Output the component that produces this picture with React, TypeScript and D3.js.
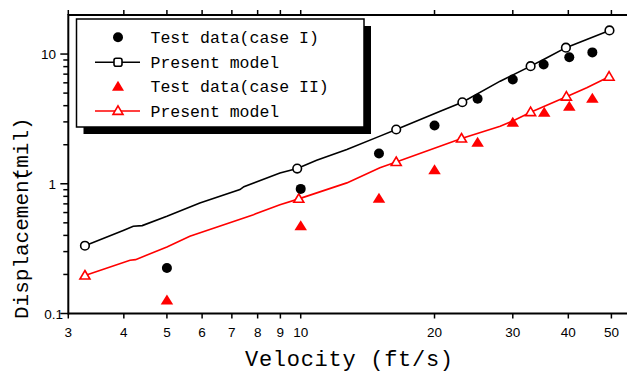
import React from "react";
import * as d3 from "d3";

// Present model (case I) curve
const modelIX = [3.27, 4.0, 4.2, 4.4, 5.0, 5.93, 7.3, 7.45, 8.98, 9.82, 10.86, 12.7, 15.07, 16.4, 20.6, 23.1, 28.1, 32.9, 35.8, 39.5, 44.0, 49.5];
const modelIY = [0.333, 0.438, 0.47, 0.476, 0.562, 0.712, 0.902, 0.95, 1.21, 1.31, 1.52, 1.836, 2.33, 2.62, 3.63, 4.25, 6.18, 8.07, 9.36, 11.2, 12.96, 15.2];
// Present model (case I) symbols
const modelIMarkX = [3.27, 9.82, 16.4, 23.1, 32.9, 39.5, 49.5];
const modelIMarkY = [0.333, 1.31, 2.62, 4.25, 8.07, 11.2, 15.2];

// Present model (case II) curve
const modelIIX = [3.27, 4.13, 4.25, 5.0, 5.63, 7.83, 8.98, 9.9, 12.7, 15.07, 16.4, 23.0, 28.1, 30.0, 32.9, 39.6, 44.0, 49.4];
const modelIIY = [0.196, 0.257, 0.26, 0.326, 0.394, 0.578, 0.69, 0.765, 1.016, 1.33, 1.47, 2.23, 2.78, 3.05, 3.56, 4.69, 5.5, 6.68];
// Present model (case II) symbols
const modelIIMarkX = [3.27, 9.9, 16.4, 23.0, 32.9, 39.6, 49.4];
const modelIIMarkY = [0.196, 0.765, 1.47, 2.23, 3.56, 4.69, 6.68];

// Test data
const testIX = [5, 10, 15, 20, 25, 30, 35.2, 40.2, 45.3];
const testIY = [0.224, 0.913, 1.71, 2.81, 4.52, 6.37, 8.31, 9.46, 10.3];
const testIIX = [5, 10, 15, 20, 25, 30, 35.3, 40.2, 45.3];
const testIIY = [0.126, 0.47, 0.765, 1.27, 2.07, 2.95, 3.53, 3.92, 4.52];

// Axis ticks
const xTicks = [3, 4, 5, 6, 7, 8, 9, 10, 20, 30, 40, 50];
const yMajor = [0.1, 1, 10];
const yMinor = [0.2, 0.3, 0.4, 0.5, 0.6, 0.7, 0.8, 0.9, 2, 3, 4, 5, 6, 7, 8, 9];

const legendLabels = ["Test data(case I)", "Present model", "Test data(case II)", "Present model"];

const W = 627;
const H = 373;
const RED = "#ff0000";
const MONO = "'Liberation Mono', 'DejaVu Sans Mono', monospace";
const SANS = "'Liberation Sans', Arial, sans-serif";

const x = d3.scaleLog().domain([3, 60]).range([68.3, 646.6]);
const y = d3.scaleLog().domain([0.1, 20]).range([313.5, 15]);

const zip = (xs: number[], ys: number[]) => xs.map((v, i) => [v, ys[i]] as [number, number]);

const line = d3
  .line<[number, number]>()
  .x((d) => x(d[0]))
  .y((d) => y(d[1]));

const triUp = (cx: number, cy: number, w: number, h: number) =>
  `M${cx},${cy - h * 0.6}L${cx + w / 2},${cy + h * 0.4}L${cx - w / 2},${cy + h * 0.4}Z`;

export default function App() {
  const x0 = x.range()[0];
  const yTop = y.range()[1];
  const yBot = y.range()[0];

  const lg = { x: 76.5, y: 19, w: 287.5, h: 108 };
  const rows = [37.3, 62.3, 86.7, 111];
  const symX = 118;

  return (
    <svg
      width={W}
      height={H}
      style={{ position: "absolute", left: 0, top: 0, background: "#fff" }}
    >
      <rect width={W} height={H} fill="#fff" />

      {/* frame */}
      <g stroke="#000" strokeWidth={2} fill="none">
        <line x1={x0} x2={W} y1={yBot} y2={yBot} />
        <line x1={x0} x2={W} y1={yTop} y2={yTop} />
        <line x1={x0} x2={x0} y1={yTop - 1} y2={yBot + 1} />
      </g>

      {/* x ticks, bottom and top */}
      <g stroke="#000" strokeWidth={1.5}>
        {xTicks.map((t) => (
          <g key={"xt" + t}>
            <line x1={x(t)} x2={x(t)} y1={yBot} y2={yBot + 5} />
            <line x1={x(t)} x2={x(t)} y1={yTop} y2={yTop - 5} />
          </g>
        ))}
        {yMajor.map((t) => (
          <line key={"ym" + t} x1={x0} x2={x0 - 8} y1={y(t)} y2={y(t)} />
        ))}
        {yMinor.map((t) => (
          <line key={"yn" + t} x1={x0} x2={x0 - 5} y1={y(t)} y2={y(t)} />
        ))}
      </g>

      {/* tick labels */}
      <g fontFamily={SANS} fontSize={13.5} fill="#000">
        {xTicks.map((t) => (
          <text key={"xl" + t} x={x(t)} y={336.5} textAnchor="middle">
            {d3.format("~g")(t)}
          </text>
        ))}
        {yMajor.map((t, i) => (
          <text
            key={"yl" + t}
            x={i === 0 ? 63 : 56}
            y={y(t) + 5}
            textAnchor="end"
          >
            {d3.format("~g")(t)}
          </text>
        ))}
      </g>

      {/* axis titles */}
      <text
        x={245}
        y={366}
        fontFamily={MONO}
        fontSize={22}
        textLength={208}
        lengthAdjust="spacing"
        fill="#000"
      >
        Velocity (ft/s)
      </text>
      <g transform="translate(28,319) rotate(-90)" fontFamily={MONO} fontSize={21} fill="#000">
        <text x={0} y={0}>Displacement</text>
        <text x={11 * 12.6} y={0}>(mil)</text>
      </g>

      {/* model curves */}
      <path d={line(zip(modelIX, modelIY)) || ""} fill="none" stroke="#000" strokeWidth={1.6} />
      <path d={line(zip(modelIIX, modelIIY)) || ""} fill="none" stroke={RED} strokeWidth={1.6} />

      {/* model symbols */}
      {zip(modelIMarkX, modelIMarkY).map(([a, b], i) => (
        <circle key={"m1" + i} cx={x(a)} cy={y(b)} r={4.3} fill="#fff" stroke="#000" strokeWidth={1.6} />
      ))}
      {zip(modelIIMarkX, modelIIMarkY).map(([a, b], i) => (
        <path key={"m2" + i} d={triUp(x(a), y(b), 10, 8.5)} fill="#fff" stroke={RED} strokeWidth={1.6} />
      ))}

      {/* test data */}
      {zip(testIX, testIY).map(([a, b], i) => (
        <circle key={"t1" + i} cx={x(a)} cy={y(b)} r={5} fill="#000" />
      ))}
      {zip(testIIX, testIIY).map(([a, b], i) => (
        <path key={"t2" + i} d={triUp(x(a), y(b), 12.5, 10)} fill={RED} />
      ))}

      {/* legend */}
      <rect x={lg.x + 7} y={lg.y + 7} width={lg.w} height={lg.h} fill="#000" />
      <rect x={lg.x} y={lg.y} width={lg.w} height={lg.h} fill="#fff" stroke="#000" strokeWidth={1.5} />
      <circle cx={symX} cy={rows[0]} r={5} fill="#000" />
      <line x1={95} x2={140} y1={rows[1]} y2={rows[1]} stroke="#000" strokeWidth={1.6} />
      <rect x={symX - 4} y={rows[1] - 4} width={8} height={8} rx={2} fill="#fff" stroke="#000" strokeWidth={1.6} />
      <path d={triUp(symX, rows[2], 12, 10)} fill={RED} />
      <line x1={95} x2={140} y1={rows[3]} y2={rows[3]} stroke={RED} strokeWidth={1.6} />
      <path d={triUp(symX, rows[3], 10, 8.5)} fill="#fff" stroke={RED} strokeWidth={1.6} />
      <g fontFamily={MONO} fontSize={16.5} fill="#000">
        {legendLabels.map((s, i) => (
          <text key={"lg" + i} x={150.5} y={rows[i] + 5.5}>
            {s}
          </text>
        ))}
      </g>
    </svg>
  );
}
